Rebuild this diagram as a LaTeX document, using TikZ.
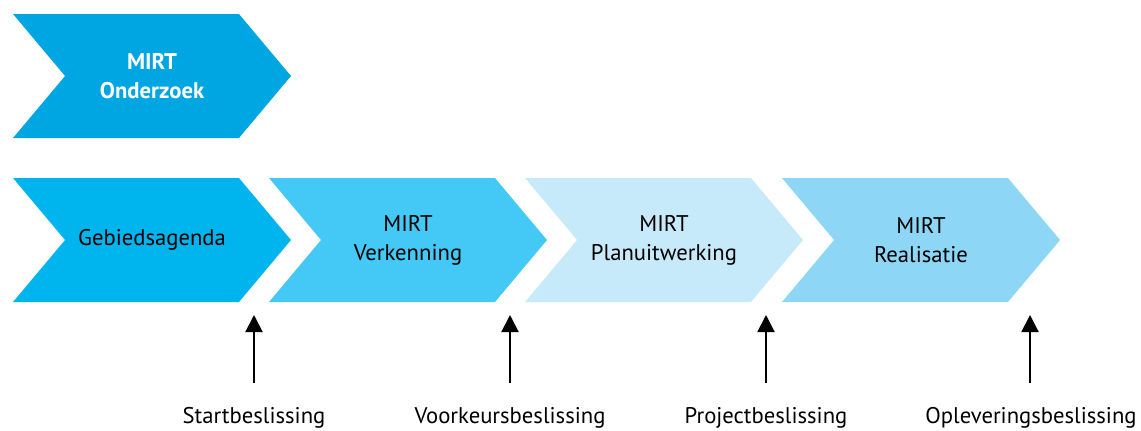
\documentclass[tikz,border=0pt]{standalone}
\usepackage{fontspec}
\setmainfont{PT Sans}
\usetikzlibrary{shapes.symbols,arrows.meta}
\definecolor{onderzoek}{HTML}{00A6E2}
\definecolor{gebied}{HTML}{00B5EE}
\definecolor{verkenning}{HTML}{44C8F5}
\definecolor{planuit}{HTML}{C6EAF9}
\definecolor{realisatie}{HTML}{8ED6F6}
\begin{document}
\begin{tikzpicture}[x=0.75pt,y=-0.75pt,
	fase/.style={signal,signal to=east,signal from=west,
	signal pointer angle=100,minimum width=208.5pt,minimum height=93pt,
	inner sep=0,align=center,font=\fontsize{17}{21.75}\selectfont},
	beslissing/.style={font=\fontsize{17}{20}\selectfont,inner sep=0},
	pijl/.style={-{Triangle[width=12.75pt,length=12.75pt]},line width=1.5pt}]
\useasboundingbox (0,0) rectangle (1141,430);
% fasen
\node[fase,fill=onderzoek,text=white,font=\fontsize{17}{21.75}\selectfont\bfseries] (ond) at (152,76) {MIRT\\Onderzoek};
\node[fase,fill=gebied] (geb) at (152,240) {Gebiedsagenda};
\node[fase,fill=verkenning] (ver) at (408,240) {MIRT\\Verkenning};
\node[fase,fill=planuit] (pla) at (664,240) {MIRT\\Planuitwerking};
\node[fase,fill=realisatie] (rea) at (921,240) {MIRT\\Realisatie};
% beslissingen
\node[beslissing] (start) at (254,418) {Startbeslissing};
\node[beslissing] (voork) at (510,418) {Voorkeursbeslissing};
\node[beslissing] (proj) at (766,418) {Projectbeslissing};
\node[beslissing] (oplev) at (1031,418) {Opleveringsbeslissing};
\coordinate (s1) at (254,383);
\coordinate (s2) at (510,383);
\coordinate (s3) at (766,383);
\coordinate (s4) at (1030,383);
\coordinate (e1) at (254,315);
\coordinate (e2) at (510,315);
\coordinate (e3) at (766,315);
\coordinate (e4) at (1030,315);
\draw[pijl] (s1) -- (e1);
\draw[pijl] (s2) -- (e2);
\draw[pijl] (s3) -- (e3);
\draw[pijl] (s4) -- (e4);
\end{tikzpicture}
\end{document}
